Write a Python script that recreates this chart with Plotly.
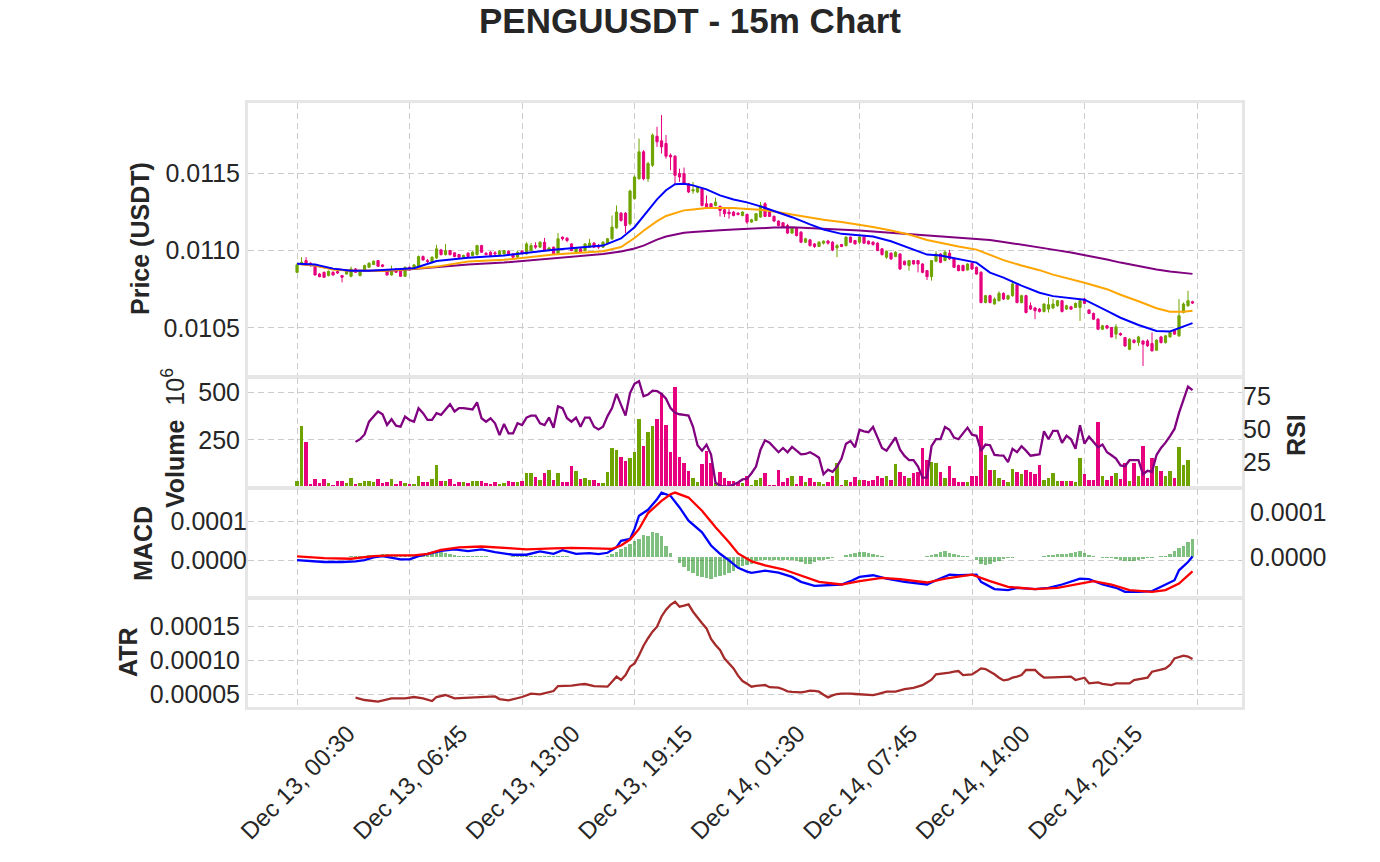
import plotly.graph_objects as go

# === Data (15m candles, index 0 = Dec 13 00:30) ===
tick_idx = [0, 25, 50, 75, 100, 125, 150, 175]
tick_text = ['Dec 13, 00:30', 'Dec 13, 06:45', 'Dec 13, 13:00', 'Dec 13, 19:15',
             'Dec 14, 01:30', 'Dec 14, 07:45', 'Dec 14, 14:00', 'Dec 14, 20:15']
last_grid = [200]

opens = [
    0.010859, 0.010913, 0.010935, 0.010918, 0.010896, 0.010848, 0.010859, 0.010838, 0.010859, 0.010864,
    0.010838, 0.010848, 0.010833, 0.010881, 0.010838, 0.010870, 0.010892, 0.010909, 0.010935, 0.010907,
    0.010874, 0.010842, 0.010881, 0.010874, 0.010833, 0.010892, 0.010887, 0.010892, 0.010961, 0.010935,
    0.010924, 0.010952, 0.011004, 0.010974, 0.011000, 0.010985, 0.010974, 0.010957, 0.010983, 0.010968,
    0.010974, 0.011032, 0.010983, 0.010989, 0.010985, 0.010974, 0.010978, 0.010996, 0.010978, 0.010957,
    0.010996, 0.010978, 0.011000, 0.011032, 0.011022, 0.011054, 0.011000, 0.011022, 0.010978, 0.011087,
    0.011080, 0.011043, 0.010989, 0.011011, 0.011000, 0.011022, 0.011048, 0.011032, 0.011022, 0.011048,
    0.011076, 0.011147, 0.011242, 0.011242, 0.011173, 0.011336, 0.011465, 0.011639, 0.011465, 0.011552,
    0.011740, 0.011710, 0.011693, 0.011617, 0.011611, 0.011498, 0.011498, 0.011433, 0.011385, 0.011379,
    0.011401, 0.011303, 0.011303, 0.011292, 0.011286, 0.011264, 0.011249, 0.011249, 0.011242, 0.011227,
    0.011234, 0.011184, 0.011195, 0.011217, 0.011303, 0.011249, 0.011221, 0.011191, 0.011180, 0.011162,
    0.011113, 0.011147, 0.011119, 0.011054, 0.011069, 0.011043, 0.011026, 0.011048, 0.011061, 0.011054,
    0.011017, 0.011039, 0.011032, 0.011087, 0.011065, 0.011054, 0.011087, 0.011061, 0.011054, 0.011048,
    0.011011, 0.010957, 0.010983, 0.010961, 0.010978, 0.010931, 0.010903, 0.010935, 0.010935, 0.010913,
    0.010870, 0.010831, 0.010931, 0.010978, 0.010935, 0.010983, 0.010946, 0.010903, 0.010903, 0.010874,
    0.010918, 0.010892, 0.010859, 0.010664, 0.010708, 0.010654, 0.010675, 0.010723, 0.010686, 0.010708,
    0.010779, 0.010664, 0.010708, 0.010643, 0.010628, 0.010621, 0.010606, 0.010621, 0.010628, 0.010643,
    0.010675, 0.010621, 0.010636, 0.010632, 0.010632, 0.010686, 0.010615, 0.010593, 0.010556, 0.010491,
    0.010513, 0.010502, 0.010459, 0.010463, 0.010437, 0.010361, 0.010420, 0.010405, 0.010415, 0.010415,
    0.010398, 0.010355, 0.010441, 0.010405, 0.010441, 0.010485, 0.010448, 0.010599, 0.010643, 0.010669,
]
highs = [
    0.010918, 0.010957, 0.010957, 0.010924, 0.010903, 0.010855, 0.010864, 0.010870, 0.010866, 0.010870,
    0.010842, 0.010870, 0.010896, 0.010887, 0.010870, 0.010909, 0.010924, 0.010935, 0.010939, 0.010913,
    0.010881, 0.010903, 0.010887, 0.010881, 0.010896, 0.010896, 0.010913, 0.010968, 0.010968, 0.010946,
    0.010963, 0.011037, 0.011011, 0.011043, 0.011004, 0.010989, 0.010978, 0.010974, 0.010989, 0.010996,
    0.011037, 0.011037, 0.010989, 0.010996, 0.010996, 0.011004, 0.011004, 0.011000, 0.010983, 0.011000,
    0.011004, 0.011054, 0.011048, 0.011054, 0.011061, 0.011082, 0.011022, 0.011026, 0.011113, 0.011091,
    0.011087, 0.011048, 0.011022, 0.011017, 0.011048, 0.011076, 0.011054, 0.011043, 0.011061, 0.011082,
    0.011227, 0.011292, 0.011249, 0.011249, 0.011394, 0.011487, 0.011725, 0.011650, 0.011574, 0.011758,
    0.011801, 0.011877, 0.011747, 0.011628, 0.011617, 0.011530, 0.011537, 0.011437, 0.011444, 0.011416,
    0.011407, 0.011357, 0.011307, 0.011342, 0.011292, 0.011271, 0.011281, 0.011255, 0.011249, 0.011255,
    0.011238, 0.011206, 0.011242, 0.011314, 0.011314, 0.011255, 0.011227, 0.011195, 0.011184, 0.011173,
    0.011152, 0.011152, 0.011126, 0.011082, 0.011076, 0.011048, 0.011061, 0.011065, 0.011069, 0.011061,
    0.011043, 0.011043, 0.011091, 0.011091, 0.011069, 0.011091, 0.011091, 0.011065, 0.011061, 0.011054,
    0.011017, 0.011000, 0.010989, 0.010996, 0.010983, 0.010935, 0.010939, 0.010939, 0.010939, 0.010918,
    0.010874, 0.010939, 0.010996, 0.010983, 0.011004, 0.011004, 0.010952, 0.010909, 0.010909, 0.010918,
    0.010924, 0.010896, 0.010866, 0.010714, 0.010714, 0.010697, 0.010736, 0.010729, 0.010714, 0.010805,
    0.010784, 0.010714, 0.010714, 0.010664, 0.010636, 0.010628, 0.010658, 0.010697, 0.010686, 0.010680,
    0.010680, 0.010649, 0.010643, 0.010664, 0.010686, 0.010693, 0.010621, 0.010599, 0.010563, 0.010519,
    0.010519, 0.010506, 0.010524, 0.010470, 0.010441, 0.010433, 0.010426, 0.010448, 0.010420, 0.010426,
    0.010470, 0.010426, 0.010448, 0.010454, 0.010476, 0.010491, 0.010686, 0.010664, 0.010740, 0.010675,
]
lows = [
    0.010855, 0.010909, 0.010907, 0.010896, 0.010838, 0.010827, 0.010822, 0.010833, 0.010838, 0.010848,
    0.010794, 0.010844, 0.010827, 0.010855, 0.010833, 0.010866, 0.010887, 0.010907, 0.010896, 0.010892,
    0.010838, 0.010838, 0.010855, 0.010831, 0.010831, 0.010870, 0.010881, 0.010887, 0.010935, 0.010913,
    0.010918, 0.010946, 0.010968, 0.010968, 0.010968, 0.010957, 0.010952, 0.010952, 0.010957, 0.010963,
    0.010968, 0.010985, 0.010968, 0.010963, 0.010974, 0.010968, 0.010974, 0.010974, 0.010950, 0.010950,
    0.010974, 0.010974, 0.010996, 0.011011, 0.011017, 0.010996, 0.010996, 0.010974, 0.010974, 0.011065,
    0.011054, 0.010996, 0.010983, 0.010983, 0.010996, 0.011017, 0.011017, 0.011011, 0.011017, 0.011043,
    0.011069, 0.011141, 0.011188, 0.011113, 0.011162, 0.011329, 0.011459, 0.011455, 0.011444, 0.011541,
    0.011671, 0.011628, 0.011595, 0.011520, 0.011429, 0.011444, 0.011429, 0.011372, 0.011368, 0.011372,
    0.011286, 0.011277, 0.011277, 0.011286, 0.011221, 0.011217, 0.011206, 0.011221, 0.011227, 0.011221,
    0.011173, 0.011180, 0.011191, 0.011212, 0.011217, 0.011217, 0.011184, 0.011156, 0.011147, 0.011108,
    0.011108, 0.011091, 0.011048, 0.011048, 0.011026, 0.011017, 0.011022, 0.011039, 0.011039, 0.010996,
    0.010957, 0.011022, 0.011026, 0.011048, 0.011039, 0.011043, 0.011043, 0.011039, 0.011032, 0.010996,
    0.010968, 0.010946, 0.010939, 0.010957, 0.010874, 0.010903, 0.010870, 0.010909, 0.010859, 0.010853,
    0.010809, 0.010805, 0.010924, 0.010918, 0.010931, 0.010939, 0.010887, 0.010866, 0.010866, 0.010870,
    0.010874, 0.010844, 0.010658, 0.010658, 0.010658, 0.010649, 0.010671, 0.010680, 0.010680, 0.010701,
    0.010658, 0.010658, 0.010593, 0.010615, 0.010556, 0.010599, 0.010599, 0.010599, 0.010621, 0.010636,
    0.010599, 0.010615, 0.010615, 0.010628, 0.010545, 0.010654, 0.010589, 0.010550, 0.010485, 0.010485,
    0.010491, 0.010437, 0.010426, 0.010448, 0.010376, 0.010355, 0.010398, 0.010383, 0.010253, 0.010376,
    0.010346, 0.010351, 0.010398, 0.010398, 0.010437, 0.010454, 0.010441, 0.010593, 0.010636, 0.010654,
]
closes = [
    0.010907, 0.010924, 0.010913, 0.010903, 0.010842, 0.010831, 0.010827, 0.010866, 0.010842, 0.010855,
    0.010827, 0.010866, 0.010881, 0.010859, 0.010866, 0.010903, 0.010918, 0.010931, 0.010898, 0.010898,
    0.010842, 0.010874, 0.010859, 0.010833, 0.010892, 0.010874, 0.010907, 0.010961, 0.010939, 0.010929,
    0.010957, 0.011011, 0.010974, 0.011000, 0.010974, 0.010961, 0.010957, 0.010968, 0.010961, 0.010989,
    0.011032, 0.010989, 0.010974, 0.010968, 0.010978, 0.010996, 0.011000, 0.010978, 0.010957, 0.010989,
    0.010983, 0.011043, 0.011032, 0.011022, 0.011054, 0.011000, 0.011017, 0.010978, 0.011076, 0.011076,
    0.011065, 0.011000, 0.011015, 0.010989, 0.011043, 0.011048, 0.011022, 0.011022, 0.011054, 0.011076,
    0.011152, 0.011249, 0.011195, 0.011162, 0.011385, 0.011476, 0.011639, 0.011465, 0.011563, 0.011747,
    0.011704, 0.011671, 0.011611, 0.011606, 0.011487, 0.011476, 0.011433, 0.011379, 0.011394, 0.011411,
    0.011292, 0.011281, 0.011281, 0.011314, 0.011260, 0.011238, 0.011238, 0.011227, 0.011234, 0.011249,
    0.011184, 0.011199, 0.011238, 0.011292, 0.011221, 0.011221, 0.011191, 0.011162, 0.011152, 0.011113,
    0.011147, 0.011097, 0.011054, 0.011076, 0.011032, 0.011026, 0.011054, 0.011061, 0.011048, 0.011004,
    0.011032, 0.011026, 0.011087, 0.011054, 0.011043, 0.011087, 0.011048, 0.011043, 0.011039, 0.011000,
    0.010974, 0.010996, 0.010946, 0.010989, 0.010881, 0.010909, 0.010935, 0.010913, 0.010913, 0.010859,
    0.010831, 0.010935, 0.010978, 0.010924, 0.010989, 0.010946, 0.010892, 0.010870, 0.010870, 0.010913,
    0.010881, 0.010848, 0.010664, 0.010708, 0.010664, 0.010686, 0.010723, 0.010686, 0.010708, 0.010784,
    0.010664, 0.010708, 0.010599, 0.010621, 0.010610, 0.010606, 0.010654, 0.010649, 0.010654, 0.010675,
    0.010606, 0.010643, 0.010621, 0.010658, 0.010675, 0.010658, 0.010593, 0.010556, 0.010491, 0.010513,
    0.010498, 0.010441, 0.010506, 0.010454, 0.010383, 0.010426, 0.010405, 0.010441, 0.010394, 0.010383,
    0.010351, 0.010420, 0.010405, 0.010448, 0.010470, 0.010459, 0.010578, 0.010654, 0.010675, 0.010660,
]
# volume in millions
volume_m = [
    32, 324, 241, 18, 43, 23, 43, 23, 14, 32,
    32, 23, 48, 18, 23, 32, 32, 25, 44, 23,
    28, 43, 18, 32, 23, 18, 18, 59, 28, 28,
    43, 117, 32, 32, 43, 18, 28, 28, 23, 32,
    32, 32, 23, 18, 28, 18, 23, 32, 28, 28,
    35, 76, 76, 55, 37, 73, 90, 37, 76, 25,
    25, 113, 85, 43, 46, 37, 37, 20, 20, 82,
    209, 197, 161, 140, 152, 188, 360, 220, 294, 324,
    360, 498, 330, 188, 530, 161, 126, 85, 50, 28,
    121, 191, 126, 20, 82, 51, 34, 34, 28, 20,
    57, 11, 39, 46, 73, 14, 14, 92, 28, 46,
    60, 18, 60, 25, 51, 28, 28, 18, 25, 57,
    128, 14, 39, 28, 55, 39, 39, 32, 39, 60,
    46, 57, 39, 122, 82, 57, 46, 74, 78, 206,
    144, 135, 128, 82, 51, 110, 51, 28, 28, 28,
    60, 60, 323, 172, 92, 92, 46, 39, 28, 96,
    82, 67, 92, 78, 67, 119, 37, 46, 74, 34,
    34, 34, 34, 28, 152, 67, 37, 37, 347, 57,
    39, 57, 74, 43, 128, 34, 128, 60, 220, 51,
    152, 113, 87, 57, 87, 51, 215, 117, 145, 3,
]

# moving averages, read at these candle indices
ma_idx = [0, 4, 8, 12, 16, 20, 26, 31, 38, 46, 57, 68, 72, 75, 77, 80, 82, 84, 86, 88,
          91, 94, 97, 100, 103, 106, 110, 114, 117, 121, 125, 128, 132, 136, 140, 143, 147, 151, 154, 157,
          161, 165, 168, 172, 175, 180, 183, 187, 191, 194, 197, 199]
ma_fast = [0.010914, 0.010909, 0.010883, 0.010870, 0.010870, 0.010875, 0.010885, 0.010932, 0.010953, 0.010968,
           0.011005, 0.011032, 0.011078, 0.011151, 0.011221, 0.011331, 0.011390, 0.011429, 0.011433, 0.011422,
           0.011396, 0.011357, 0.011331, 0.011312, 0.011286, 0.011257, 0.011216, 0.011169, 0.011136, 0.011108,
           0.011101, 0.011091, 0.011060, 0.011019, 0.010974, 0.010968, 0.010946, 0.010922, 0.010857, 0.010825,
           0.010773, 0.010727, 0.010705, 0.010693, 0.010682, 0.010610, 0.010565, 0.010518, 0.010480, 0.010476,
           0.010506, 0.010530]
ma_mid = [0.010914, 0.010903, 0.010877, 0.010870, 0.010870, 0.010870, 0.010883, 0.010896, 0.010929, 0.010940,
          0.010974, 0.010995, 0.011023, 0.011081, 0.011128, 0.011190, 0.011224, 0.011244, 0.011260, 0.011266,
          0.011275, 0.011276, 0.011275, 0.011269, 0.011264, 0.011253, 0.011234, 0.011211, 0.011199, 0.011185,
          0.011169, 0.011153, 0.011130, 0.011104, 0.011068, 0.011049, 0.011026, 0.011006, 0.010971, 0.010938,
          0.010903, 0.010873, 0.010844, 0.010815, 0.010792, 0.010750, 0.010714, 0.010672, 0.010627, 0.010604,
          0.010604, 0.010610]
ma_slow = [0.010914, 0.010903, 0.010880, 0.010870, 0.010870, 0.010870, 0.010881, 0.010893, 0.010909, 0.010922,
           0.010950, 0.010977, 0.010994, 0.011013, 0.011032, 0.011071, 0.011091, 0.011104, 0.011115, 0.011120,
           0.011127, 0.011132, 0.011136, 0.011141, 0.011146, 0.011149, 0.011151, 0.011146, 0.011141, 0.011134,
           0.011130, 0.011123, 0.011115, 0.011107, 0.011097, 0.011091, 0.011084, 0.011078, 0.011069, 0.011056,
           0.011039, 0.011019, 0.011006, 0.010987, 0.010971, 0.010942, 0.010922, 0.010899, 0.010877, 0.010864,
           0.010854, 0.010849]

# RSI from candle 13 to the end
rsi_start = 13
rsi = [40.6, 42.6, 46.2, 55.8, 59.7, 63.5, 61.4, 53.3, 57.6, 52.8,
       52.0, 59.7, 57.1, 55.8, 66.0, 62.2, 57.1, 57.1, 62.2, 60.9,
       65.0, 69.0, 63.5, 66.0, 66.0, 65.5, 65.0, 70.3, 58.4, 55.8,
       58.4, 54.6, 45.7, 54.1, 47.0, 47.0, 54.6, 53.3, 58.9, 60.4,
       60.4, 54.6, 53.3, 58.9, 51.3, 67.3, 66.0, 58.4, 55.8, 58.9,
       52.0, 58.9, 58.9, 52.0, 50.0, 52.0, 60.0, 66.0, 76.7, 68.5,
       60.4, 77.4, 84.3, 86.3, 74.9, 76.2, 79.2, 78.9, 76.7, 73.1,
       66.0, 62.5, 61.4, 61.0, 60.4, 52.0, 38.0, 34.0, 38.5, 31.0,
       10.0, 7.5, 6.8, 7.0, 8.3, 10.0, 12.3, 12.8, 17.0, 22.0,
       34.7, 41.8, 40.0, 36.0, 32.8, 36.0, 32.8, 36.8, 34.0, 31.2,
       31.5, 32.8, 31.0, 28.6, 16.2, 19.6, 18.0, 22.0, 28.0, 39.2,
       41.3, 36.5, 49.7, 48.5, 47.9, 51.8, 44.0, 36.0, 33.9, 39.0,
       43.9, 34.7, 30.0, 26.8, 26.8, 22.0, 13.6, 13.6, 37.3, 42.6,
       42.6, 51.8, 49.7, 43.9, 42.6, 47.0, 51.3, 46.0, 45.2, 33.9,
       38.6, 38.1, 30.7, 30.4, 30.2, 25.4, 35.4, 32.8, 37.3, 34.0,
       30.2, 30.7, 31.2, 48.6, 42.6, 48.9, 48.9, 39.9, 45.2, 42.6,
       35.4, 53.1, 39.2, 44.5, 40.7, 36.5, 38.6, 32.8, 30.5, 28.0,
       22.8, 22.3, 26.8, 26.8, 26.8, 16.2, 18.8, 18.0, 30.7, 36.0,
       40.0, 45.0, 50.3, 62.4, 71.6, 82.2, 79.5]

# MACD line and signal, read at these candle indices
macd_idx = [0, 2, 6, 10, 13, 15, 17, 19, 23, 25, 27, 32, 35, 38, 41, 44, 48, 51, 54, 57,
            59, 62, 65, 67, 69, 71, 72, 74, 75, 76, 78, 80, 81, 83, 85, 87, 90, 92, 94, 96,
            98, 100, 101, 104, 107, 110, 112, 115, 118, 121, 123, 125, 128, 131, 135, 140, 142, 145, 147, 151,
            152, 155, 158, 160, 164, 167, 170, 172, 174, 176, 179, 182, 184, 187, 190, 192, 195, 196, 198, 199]
macd = [0.0, -1.7e-6, -5.0e-6, -5.0e-6, -3.4e-6, 0.0, 6.8e-6, 10.3e-6, 1.7e-6, 1.7e-6,
        10.3e-6, 24.0e-6, 27.4e-6, 23.0e-6, 27.4e-6, 20.5e-6, 13.7e-6, 13.7e-6, 22.2e-6, 16.2e-6,
        25.6e-6, 16.2e-6, 18.0e-6, 15.4e-6, 18.8e-6, 33.3e-6, 49.6e-6, 54.7e-6, 80.4e-6, 114.6e-6,
        130.0e-6, 157.3e-6, 174.4e-6, 165.9e-6, 136.0e-6, 101.7e-6, 71.8e-6, 37.6e-6, 16.2e-6, -0.9e-6,
        -20.0e-6, -30.0e-6, -33.3e-6, -27.4e-6, -32.5e-6, -43.6e-6, -56.4e-6, -66.7e-6, -65.0e-6, -63.3e-6,
        -54.7e-6, -43.6e-6, -39.3e-6, -47.9e-6, -56.4e-6, -63.3e-6, -52.2e-6, -37.6e-6, -39.3e-6, -37.6e-6,
        -56.4e-6, -75.2e-6, -77.8e-6, -71.8e-6, -75.2e-6, -71.8e-6, -63.3e-6, -56.4e-6, -47.9e-6, -49.6e-6,
        -63.3e-6, -71.8e-6, -82.1e-6, -82.1e-6, -80.4e-6, -69.3e-6, -52.2e-6, -26.5e-6, -5.1e-6, 9.4e-6]
signal_idx = [0, 6, 12, 17, 21, 26, 29, 32, 36, 41, 47, 51, 57, 61, 66, 70, 72, 74, 76, 78,
              81, 83, 84, 87, 90, 93, 96, 98, 101, 104, 108, 112, 116, 121, 125, 130, 134, 140, 144, 150,
              154, 158, 164, 169, 173, 177, 181, 185, 190, 193, 196, 199]
signal = [9.4e-6, 5.1e-6, 3.4e-6, 10.3e-6, 12.0e-6, 12.0e-6, 16.2e-6, 26.5e-6, 32.5e-6, 35.0e-6,
          30.8e-6, 27.4e-6, 30.0e-6, 31.6e-6, 30.0e-6, 29.0e-6, 37.6e-6, 53.0e-6, 80.4e-6, 121.4e-6,
          153.0e-6, 170.0e-6, 174.4e-6, 161.6e-6, 127.4e-6, 84.6e-6, 46.2e-6, 17.0e-6, -3.4e-6, -13.7e-6,
          -23.9e-6, -39.3e-6, -56.4e-6, -63.3e-6, -54.7e-6, -46.2e-6, -49.6e-6, -58.1e-6, -47.9e-6, -37.6e-6,
          -54.7e-6, -69.3e-6, -75.2e-6, -71.8e-6, -63.3e-6, -54.7e-6, -63.3e-6, -77.8e-6, -82.1e-6, -77.8e-6,
          -60.7e-6, -29.1e-6]
# histogram, one bar per candle (in 1e-6)
hist_u = [0, 0, 0, 0, 0, 0, 0, 0, 0, 0,
          0, 0, 1.5, 1.5, 1.5, 1.5, 3.7, 5.2, 5.2, 5.9,
          5.9, 5.2, 4.4, 3.0, 2.2, 2.2, 2.2, 3.0, 4.4, 5.9,
          8.1, 10.4, 10.4, 8.9, 6.7, 4.4, 3.0, 2.2, 1.5, 1.5,
          2.2, 2.2, 1.5, 0.7, 0.7, 0.4, 0.4, 0.7, 1.5, 2.2,
          2.2, 2.2, 2.2, 2.2, 2.2, 2.2, 2.2, 2.2, 3.0, 3.0,
          2.2, 0.7, 0.4, -0.7, -0.7, 0.4, -0.7, 0.4, 0.7, 2.2,
          5.9, 11, 18, 22, 30, 37, 41, 49.6, 48, 55.6,
          53.4, 48, 26, 8.9, 0.7, -12.6, -22.2, -31.9, -34.8, -42,
          -44.5, -46.7, -48.2, -45, -42.2, -40, -36, -31, -25, -20,
          -18, -14.8, -9.6, -7, -7, -7.4, -7.4, -6.7, -6.7, -7.4,
          -7.4, -8.9, -11, -14.8, -14.8, -11, -7.4, -6, -4.4, -1.5,
          -0.7, 0.7, 3.7, 6.7, 9, 11, 11, 9, 7.4, 5.2,
          2.2, 0.7, -0.7, -0.7, -0.7, -0.7, -0.7, -0.7, -0.7, 0.7,
          1.5, 3.7, 6.7, 11, 12.6, 9, 6, 4.4, 3, 2.2,
          0.7, -7.4, -14.8, -18.5, -15, -11, -8.1, -5.2, -3, -1.5,
          -0.7, -0.7, -0.7, 0.4, -0.7, -0.7, 2.2, 3.7, 5.2, 5.9,
          5.9, 7.4, 8.9, 11, 12.6, 8.9, 4.4, 2.2, -0.7, -2.2,
          -2.2, -3, -3.7, -5.9, -8.1, -9.6, -9.6, -7.4, -4.4, -2.2,
          -1.5, 0.4, 1.5, 3, 7.4, 14, 20, 26, 33, 40.8]

# ATR, read at these candle indices (in 1e-6)
atr_idx = [13, 15, 18, 21, 24, 26, 28, 30, 31, 33, 35, 38, 41, 44, 45, 47, 50, 52, 54, 57,
           58, 61, 63, 64, 66, 69, 70, 71, 72, 73, 74, 75, 76, 77, 78, 79, 80, 81, 82, 83,
           84, 85, 86, 87, 88, 89, 90, 91, 92, 93, 94, 95, 96, 97, 98, 99, 100, 101, 102, 103,
           104, 105, 106, 107, 108, 109, 110, 111, 112, 113, 114, 115, 116, 117, 118, 119, 120, 121, 122, 123,
           124, 126, 128, 129, 131, 133, 134, 135, 137, 138, 139, 140, 141, 142, 143, 144, 145, 146, 147, 148,
           149, 150, 151, 152, 153, 154, 155, 156, 157, 158, 159, 160, 161, 162, 163, 164, 165, 166, 168, 170,
           172, 173, 174, 175, 176, 177, 178, 179, 180, 181, 182, 183, 184, 185, 186, 187, 188, 189, 190, 191,
           192, 193, 194, 195, 196, 197, 198, 199]
atr_u = [45.6, 42.2, 39.7, 44.6, 44.6, 46.6, 44.6, 40.7, 46.6, 49.5, 44.6, 45.6, 47.5, 47.5, 43.6, 41.7, 46.6, 51.5, 50.5, 55.4,
         62.7, 63.2, 65.2, 65.7, 62.7, 61.8, 69.1, 76.5, 71.6, 78.9, 91.2, 96, 108, 122, 133, 142.6, 150, 165, 175, 182,
         186.7, 179.4, 181, 182.8, 172, 163, 155, 147.5, 132, 123, 115.7, 103, 95, 88.7, 78, 70, 66, 61.8, 63, 63.5,
         64.2, 61, 60.3, 60.3, 58, 55, 54, 53.5, 53.4, 54.5, 55.9, 55.5, 54.4, 50, 46.1, 49, 51, 51.5, 52, 51.5,
         51, 50.5, 49.5, 51, 54.4, 54.4, 56, 58.3, 60, 61.8, 64, 68, 72, 79.9, 80.5, 81.4, 82.5, 84, 84.8, 78.9,
         79.5, 79.9, 84, 88.7, 87.7, 84, 80, 75, 71, 72, 75, 76.5, 78.9, 86.3, 86.3, 86.3, 80, 75, 75.5, 76,
         76.5, 71.6, 73, 75, 66.7, 67.5, 68.1, 66, 65, 64.2, 66.7, 66.7, 66.7, 66.7, 71.6, 73, 74, 75, 83.8, 85,
         87, 88.7, 93.6, 103.4, 105, 107.3, 106, 102.4]

# === Styling ===
UP = '#6fa400'
DOWN = '#e6007e'
TXT = '#262626'
FRAME = '#e6e6e6'
GRID = '#cccccc'
FONT = 'Liberation Sans, Arial, sans-serif'

idx = list(range(len(closes)))
vol_colors = [UP if c >= o else DOWN for o, c in zip(opens, closes)]
hist = [h * 1e-6 for h in hist_u]
atr = [a * 1e-6 for a in atr_u]
rsi_idx = list(range(rsi_start, rsi_start + len(rsi)))

fig = go.Figure()

# price panel
fig.add_trace(go.Candlestick(
    x=idx, open=opens, high=highs, low=lows, close=closes,
    increasing=dict(line=dict(color=UP, width=1), fillcolor=UP),
    decreasing=dict(line=dict(color=DOWN, width=1), fillcolor=DOWN),
    whiskerwidth=0, showlegend=False, xaxis='x', yaxis='y'))
fig.add_trace(go.Scatter(x=ma_idx, y=ma_slow, mode='lines', line=dict(color='purple', width=2),
                         showlegend=False, xaxis='x', yaxis='y'))
fig.add_trace(go.Scatter(x=ma_idx, y=ma_mid, mode='lines', line=dict(color='orange', width=2),
                         showlegend=False, xaxis='x', yaxis='y'))
fig.add_trace(go.Scatter(x=ma_idx, y=ma_fast, mode='lines', line=dict(color='blue', width=2),
                         showlegend=False, xaxis='x', yaxis='y'))

# volume + RSI
fig.add_trace(go.Bar(x=idx, y=volume_m, marker=dict(color=vol_colors, line=dict(width=0)),
                     width=0.85, showlegend=False, xaxis='x2', yaxis='y2'))
fig.add_trace(go.Scatter(x=rsi_idx, y=rsi, mode='lines', line=dict(color='purple', width=2.3),
                         showlegend=False, xaxis='x2', yaxis='y3'))

# MACD
fig.add_trace(go.Bar(x=idx, y=hist, marker=dict(color='rgba(0,128,0,0.5)', line=dict(width=0)),
                     width=0.8, showlegend=False, xaxis='x3', yaxis='y4'))
fig.add_trace(go.Scatter(x=macd_idx, y=macd, mode='lines', line=dict(color='blue', width=2.3),
                         showlegend=False, xaxis='x3', yaxis='y5'))
fig.add_trace(go.Scatter(x=signal_idx, y=signal, mode='lines', line=dict(color='red', width=2.3),
                         showlegend=False, xaxis='x3', yaxis='y5'))

# ATR
fig.add_trace(go.Scatter(x=atr_idx, y=atr, mode='lines', line=dict(color='#a52a2a', width=2.3),
                         showlegend=False, xaxis='x4', yaxis='y6'))

tickfont = dict(family=FONT, size=25, color=TXT)
gridstyle = dict(gridcolor=GRID, griddash='6px,4px', gridwidth=1.3)
xbase = dict(range=[-10.9, 210], tickvals=tick_idx, ticktext=tick_text, showgrid=True,
             showline=True, mirror=True, linecolor=FRAME, linewidth=3, zeroline=False,
             ticks='', tickfont=tickfont,
             minor=dict(tickvals=last_grid, showgrid=True, ticks='', **gridstyle), **gridstyle)
ybase = dict(showgrid=True, showline=True, mirror=True, linecolor=FRAME, linewidth=3,
             zeroline=False, ticks='', tickfont=tickfont, **gridstyle)

fig.update_layout(
    width=1380, height=862,
    margin=dict(l=248, r=138, t=103, b=155),
    paper_bgcolor='white', plot_bgcolor='white',
    hovermode=False, bargap=0,
    title=dict(text='PENGUUSDT - 15m Chart', x=0.5, xref='container', y=0.976, yanchor='middle',
               font=dict(family=FONT, size=35, color=TXT, weight='bold')),
    xaxis=dict(xbase, anchor='y', showticklabels=False, rangeslider=dict(visible=False)),
    xaxis2=dict(xbase, anchor='y2', matches='x', showticklabels=False),
    xaxis3=dict(xbase, anchor='y4', matches='x', showticklabels=False),
    # rotated labels centred on their ticks, as in the original
    xaxis4=dict(xbase, anchor='y6', matches='x', showticklabels=True, tickangle=-45,
                tickfont=dict(family=FONT, size=24, color=TXT), ticklabelshift=51),
    yaxis=dict(ybase, domain=[0.548, 1.0], range=[0.010188, 0.011955],
               tickvals=[0.0105, 0.0110, 0.0115], tickformat='.4f'),
    yaxis2=dict(ybase, domain=[0.364, 0.5447], range=[0, 578],
                tickvals=[250, 500], ticktext=['250', '500']),
    yaxis3=dict(overlaying='y2', side='right', range=[6.5, 88.7], tickvals=[25, 50, 75],
                showgrid=False, zeroline=False, showline=False, ticks='', tickfont=tickfont),
    yaxis4=dict(ybase, domain=[0.1821, 0.361], side='right', range=[-0.896e-4, 1.527e-4],
                tickvals=[0, 0.0001], ticktext=['0.0000', '0.0001'], showgrid=False),
    yaxis5=dict(overlaying='y4', side='left', range=[-0.956e-4, 1.838e-4],
                tickvals=[0, 0.0001], ticktext=['0.0000', '0.0001'], showgrid=True,
                zeroline=False, showline=False, ticks='', tickfont=tickfont, **gridstyle),
    yaxis6=dict(ybase, domain=[0.0, 0.1788], range=[3.19e-5, 19.07e-5],
                tickvals=[0.00005, 0.00010, 0.00015], tickformat='.5f'),
)

# axis titles placed as annotations (pixel positions converted to paper coords)
def px_x(px):
    return (px - 248) / 994

def px_y(py):
    return (707 - py) / 604

labels = [
    ('<b>Price (USDT)</b>', 140, 239),
    ('<b>Volume</b>  10<sup>6</sup>', 173, 438),
    ('<b>MACD</b>', 143, 544),
    ('<b>ATR</b>', 128, 652),
    ('<b>RSI</b>', 1296, 435),
]
for text, ax, ay in labels:
    fig.add_annotation(text=text, x=px_x(ax), y=px_y(ay), xref='paper', yref='paper',
                       xanchor='center', yanchor='middle', textangle=-90, showarrow=False,
                       font=dict(family=FONT, size=25, color=TXT))

# the page's default body margin would shift the figure by 8px
fig.write_html('out.html', config={'displayModeBar': False},
               post_script="document.body.style.margin='0px';")
